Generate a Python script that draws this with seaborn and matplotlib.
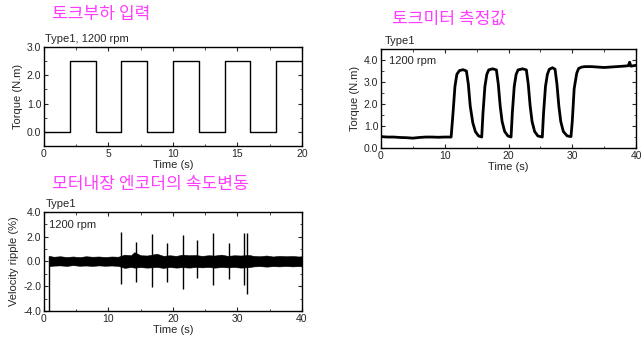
import numpy as np
import pandas as pd
import matplotlib
matplotlib.use("Agg")
import matplotlib.pyplot as plt
import seaborn as sns
from matplotlib.ticker import MultipleLocator, FormatStrFormatter

# -------------------------
# Data
# -------------------------
# torque load input: square wave edges
load_time = [0, 2, 4, 6, 8, 10, 12, 14, 16, 18, 20]
load_torque = [0.0, 2.5, 0.0, 2.5, 0.0, 2.5, 0.0, 2.5, 0.0, 2.5, 2.5]

# torque meter reading
meter_time = [0, 1, 2, 3, 4, 5, 6, 7, 8, 9, 10, 11.0,
              11.3, 11.6, 11.9, 12.3, 12.9, 13.4, 13.7, 14.0, 14.4, 14.8, 15.3, 15.8,
              16.0, 16.3, 16.6, 16.9, 17.5, 18.1, 18.4, 18.7, 19.0, 19.4, 19.9, 20.4,
              20.6, 20.9, 21.2, 21.5, 22.2, 22.8, 23.1, 23.4, 23.7, 24.1, 24.6, 25.3,
              25.5, 25.8, 26.1, 26.4, 26.9, 27.3, 27.6, 27.9, 28.2, 28.6, 29.2, 29.8,
              30.0, 30.3, 30.7, 31.0, 31.5, 32, 33, 34, 35, 36, 37, 38, 38.8, 39.0, 39.2, 40]
meter_torque = [0.52, 0.5, 0.5, 0.48, 0.47, 0.45, 0.48, 0.5, 0.5, 0.49, 0.5, 0.5,
                1.6, 2.8, 3.35, 3.52, 3.56, 3.5, 2.9, 1.9, 1.15, 0.75, 0.55, 0.5,
                1.6, 2.8, 3.35, 3.55, 3.6, 3.55, 2.9, 1.9, 1.2, 0.75, 0.55, 0.5,
                1.6, 2.8, 3.35, 3.55, 3.6, 3.55, 2.9, 1.9, 1.2, 0.75, 0.55, 0.5,
                1.6, 2.8, 3.35, 3.58, 3.65, 3.58, 2.9, 1.9, 1.2, 0.75, 0.55, 0.52,
                1.2, 2.7, 3.4, 3.62, 3.68, 3.7, 3.7, 3.68, 3.66, 3.68, 3.7, 3.72, 3.74, 3.9, 3.72, 3.76]

# velocity ripple: envelope of the noise band
band_time = [0.8, 1.5, 2.5, 3.5, 4.5, 5.5, 6.5, 7.5, 8.5, 9.5, 10.5, 11.5,
             12.5, 13.5, 14.0, 15.0, 16.0, 17.5, 18.5, 19.5, 20.5, 21.5, 22.5, 23.5,
             24.5, 25.5, 26.5, 27.5, 28.5, 29.5, 30.5, 31.8, 32.5, 33.5, 34.5, 35.5,
             36.5, 37.5, 38.5, 39.5, 40]
band_upper = [0.45, 0.38, 0.42, 0.36, 0.4, 0.35, 0.42, 0.38, 0.4, 0.36, 0.4, 0.38,
              0.55, 0.5, 0.75, 0.5, 0.48, 0.62, 0.45, 0.5, 0.45, 0.55, 0.5, 0.52,
              0.45, 0.5, 0.48, 0.55, 0.45, 0.5, 0.48, 0.52, 0.45, 0.42, 0.48, 0.4,
              0.45, 0.42, 0.44, 0.4, 0.42]
band_lower = [-0.38, -0.34, -0.32, -0.36, -0.3, -0.35, -0.33, -0.36, -0.32, -0.35, -0.33, -0.36,
              -0.52, -0.45, -0.5, -0.46, -0.5, -0.45, -0.52, -0.45, -0.5, -0.46, -0.5, -0.45,
              -0.48, -0.45, -0.5, -0.45, -0.48, -0.45, -0.5, -0.46, -0.4, -0.38, -0.42, -0.38,
              -0.4, -0.37, -0.4, -0.38, -0.4]
spike_time = [11.9, 14.3, 16.7, 19.1, 21.5, 23.8, 26.2, 28.65, 31.0, 31.4]
spike_top = [2.4, 1.6, 2.2, 1.5, 2.15, 1.75, 2.3, 1.45, 2.3, 2.3]
spike_bottom = [-1.85, -1.7, -2.1, -1.7, -2.25, -1.3, -1.9, -1.4, -1.9, -2.6]

# -------------------------
# Style
# -------------------------
sns.set_style("ticks")
plt.rcParams["font.family"] = ["Liberation Sans", "DejaVu Sans"]
plt.rcParams["xtick.direction"] = "in"
plt.rcParams["ytick.direction"] = "in"
plt.rcParams["xtick.labelsize"] = 7.5
plt.rcParams["ytick.labelsize"] = 7.5
plt.rcParams["axes.labelsize"] = 8
plt.rcParams["axes.linewidth"] = 1.0

KR = ["Noto Sans CJK KR", "DejaVu Sans"]
PINK = "#ff3cff"

fig = plt.figure(figsize=(6.44, 3.38), dpi=100)
ax1 = fig.add_axes([0.0683, 0.568, 0.4006, 0.293])
ax2 = fig.add_axes([0.5916, 0.562, 0.396, 0.293])
ax3 = fig.add_axes([0.0683, 0.080, 0.4006, 0.293])


def style_axis(ax, xmaj, xmin, ymaj, ymin):
    ax.xaxis.set_major_locator(MultipleLocator(xmaj))
    ax.xaxis.set_minor_locator(MultipleLocator(xmin))
    ax.yaxis.set_major_locator(MultipleLocator(ymaj))
    ax.yaxis.set_minor_locator(MultipleLocator(ymin))
    ax.yaxis.set_major_formatter(FormatStrFormatter("%.1f"))
    ax.tick_params(which="major", length=3, width=0.8, pad=2, top=True, right=True)
    ax.tick_params(which="minor", length=1.8, width=0.6, top=True, right=True)
    for s in ax.spines.values():
        s.set_visible(True)
        s.set_color("black")
    ax.set_xlabel("Time (s)", labelpad=1)


# -------------------------
# Torque load input
# -------------------------
df1 = pd.DataFrame({"t": load_time, "v": load_torque})
sns.lineplot(data=df1, x="t", y="v", ax=ax1, color="black", lw=1.0,
             drawstyle="steps-post", estimator=None, sort=False)
ax1.set_xlim(0, 20)
ax1.set_ylim(-0.5, 3.0)
style_axis(ax1, 5, 2.5, 1, 0.5)
ax1.set_ylabel("Torque (N.m)", labelpad=3)
ax1.text(0.005, 1.03, "Type1, 1200 rpm", transform=ax1.transAxes, fontsize=8, va="bottom")
fig.text(52 / 644, 1 - 14 / 338, "토크부하 입력", family=KR, color=PINK, fontsize=12.3, va="center")

# -------------------------
# Torque meter reading
# -------------------------
df2 = pd.DataFrame({"t": meter_time, "v": meter_torque})
sns.lineplot(data=df2, x="t", y="v", ax=ax2, color="black", lw=2.0,
             estimator=None, sort=False)
ax2.set_xlim(0, 40)
ax2.set_ylim(0, 4.5)
style_axis(ax2, 10, 5, 1, 0.5)
ax2.set_ylabel("Torque (N.m)", labelpad=3)
ax2.text(0.015, 1.03, "Type1", transform=ax2.transAxes, fontsize=8, va="bottom")
ax2.text(0.03, 0.88, "1200 rpm", transform=ax2.transAxes, fontsize=8, va="center")
fig.text(392 / 644, 1 - 19 / 338, "토크미터 측정값", family=KR, color=PINK, fontsize=12.3, va="center")

# -------------------------
# Encoder velocity ripple
# -------------------------
ax3.fill_between(band_time, band_lower, band_upper, color="black", lw=0.4)
ax3.vlines(band_time[0], -4.0, band_upper[0], color="black", lw=1.0)
ax3.vlines(spike_time, spike_bottom, spike_top, color="black", lw=1.0)
df3 = pd.DataFrame({"t": band_time, "v": [0.0] * len(band_time)})
sns.lineplot(data=df3, x="t", y="v", ax=ax3, color="black", lw=0.5, estimator=None)
ax3.set_xlim(0, 40)
ax3.set_ylim(-4, 4)
style_axis(ax3, 10, 5, 2, 1)
ax3.set_ylabel("Velocity ripple (%)", labelpad=3)
ax3.text(0.005, 1.03, "Type1", transform=ax3.transAxes, fontsize=8, va="bottom")
ax3.text(0.02, 0.87, "1200 rpm", transform=ax3.transAxes, fontsize=8, va="center")
fig.text(52 / 644, 1 - 184 / 338, "모터내장 엔코더의 속도변동", family=KR, color=PINK, fontsize=12.3, va="center")

fig.savefig("out.png", dpi=100)
